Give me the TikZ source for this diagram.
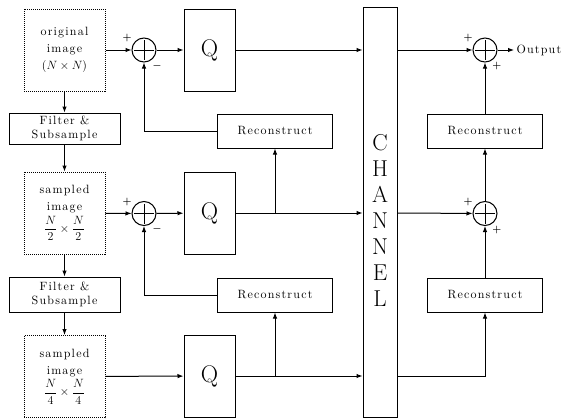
\documentclass[tikz,border=0pt]{standalone}
\usepackage{amsmath}
\usepackage{fontspec}
\newfontfamily\spacedfont{lmroman10-regular.otf}[LetterSpace=10]
\usetikzlibrary{arrows.meta,positioning,calc}

\begin{document}
\begin{tikzpicture}[x=1pt, y=-1pt, line width=1pt,
  imgbox/.style={rectangle, draw, densely dotted, minimum width=81pt,
                 minimum height=82pt, align=center,
                 font=\spacedfont\fontsize{12}{17}\selectfont},
  filtbox/.style={rectangle, draw, minimum width=111pt, align=center,
                  inner sep=1pt, font=\spacedfont\fontsize{12}{14}\selectfont},
  qbox/.style={rectangle, draw, minimum width=51pt, minimum height=82pt,
               font=\fontsize{24}{28}\selectfont},
  recbox/.style={rectangle, draw, minimum width=115pt, minimum height=34pt,
                 font=\spacedfont\fontsize{12}{13}\selectfont},
  sumnode/.style={circle, draw, minimum size=24pt, inner sep=0pt,
                  path picture={
                    \draw[shorten <=2pt, shorten >=2pt]
                      (path picture bounding box.north) -- (path picture bounding box.south);
                    \draw[shorten <=2pt, shorten >=2pt]
                      (path picture bounding box.west) -- (path picture bounding box.east);}},
  sgn/.style={font=\normalsize\bfseries, inner sep=1pt},
  arr/.style={-{Latex[length=6pt,width=4.5pt]}},
]
\useasboundingbox (0,0) rectangle (568,418);

% image pyramid on the left
\node[imgbox] (orig) at (64.5,50) {original\\image\\$(N\times N)$};
\node[filtbox, minimum height=31pt] (filt1) at (64.5,128.5) {Filter \&\\Subsample};
\node[imgbox] (samp2) at (64.5,213) {sampled\\image\\[2pt]$\dfrac{N}{2}\times\dfrac{N}{2}$};
\node[filtbox, minimum height=35pt] (filt2) at (64.5,294.5) {Filter \&\\Subsample};
\node[imgbox] (samp3) at (64.5,376.5) {sampled\\image\\[2pt]$\dfrac{N}{4}\times\dfrac{N}{4}$};

% encoder: sums, quantizers, reconstruction
\node[sumnode, label={[sgn]150:$\boldsymbol{+}$}, label={[sgn]-55:$\boldsymbol{-}$}] (s1) at (144,50) {};
\node[sumnode, label={[sgn]150:$\boldsymbol{+}$}, label={[sgn]-55:$\boldsymbol{-}$}] (s2) at (144,213.5) {};
\node[qbox] (q1) at (209.5,50) {Q};
\node[qbox] (q2) at (209.5,213) {Q};
\node[qbox] (q3) at (209.5,376) {Q};
\node[recbox] (recL1) at (275,131) {Reconstruct};
\node[recbox] (recL2) at (275,295) {Reconstruct};

% channel
\node[rectangle, draw, minimum width=34pt, minimum height=410pt] (chan) at (380,212) {};
\node[align=center, font=\fontsize{23}{26}\selectfont] (chanlbl) at (380,220)
  {C\\H\\A\\N\\N\\E\\L};

% decoder on the right
\node[sumnode, label={[sgn]150:$\boldsymbol{+}$}, label={[sgn]-62:$\boldsymbol{+}$}] (o1) at (485,50) {};
\node[sumnode, label={[sgn]150:$\boldsymbol{+}$}, label={[sgn]-62:$\boldsymbol{+}$}] (o2) at (485,213.5) {};
\node[recbox] (recR1) at (485,131) {Reconstruct};
\node[recbox] (recR2) at (485,295) {Reconstruct};
\node[anchor=west, inner sep=2pt, font=\spacedfont\fontsize{12}{13}\selectfont]
  (outlbl) at (514,50) {Output};

% left column
\draw[arr] (orig) -- (filt1);
\draw[arr] (filt1) -- (samp2);
\draw[arr] (samp2) -- (filt2);
\draw[arr] (filt2) -- (samp3);

% forward paths to the channel
\draw[arr] (orig) -- (s1);
\draw[arr] (s1) -- (q1);
\draw[arr] (q1) -- (q1 -| chan.west);
\draw[arr] (samp2) -- (s2);
\draw[arr] (s2) -- (q2);
\draw[arr] (q2) -- (q2 -| chan.west);
\draw[arr] (samp3) -- (q3);
\draw[arr] (q3) -- (q3 -| chan.west);

% prediction loops
\draw[arr] (q2 -| recL1) -- (recL1);
\draw[arr] (q3 -| recL2) -- (recL2);
\draw[arr] (recL1) -| (s1);
\draw[arr] (recL2) -| (s2);

% decoder paths
\draw[arr] (q1 -| chan.east) -- (o1);
\draw[arr] (o1) -- (outlbl);
\draw[arr] (q2 -| chan.east) -- (o2);
\draw[arr] (o2) -- (recR1);
\draw[arr] (recR1) -- (o1);
\draw[arr] (q3 -| chan.east) -| (recR2);
\draw[arr] (recR2) -- (o2);
\end{tikzpicture}
\end{document}
